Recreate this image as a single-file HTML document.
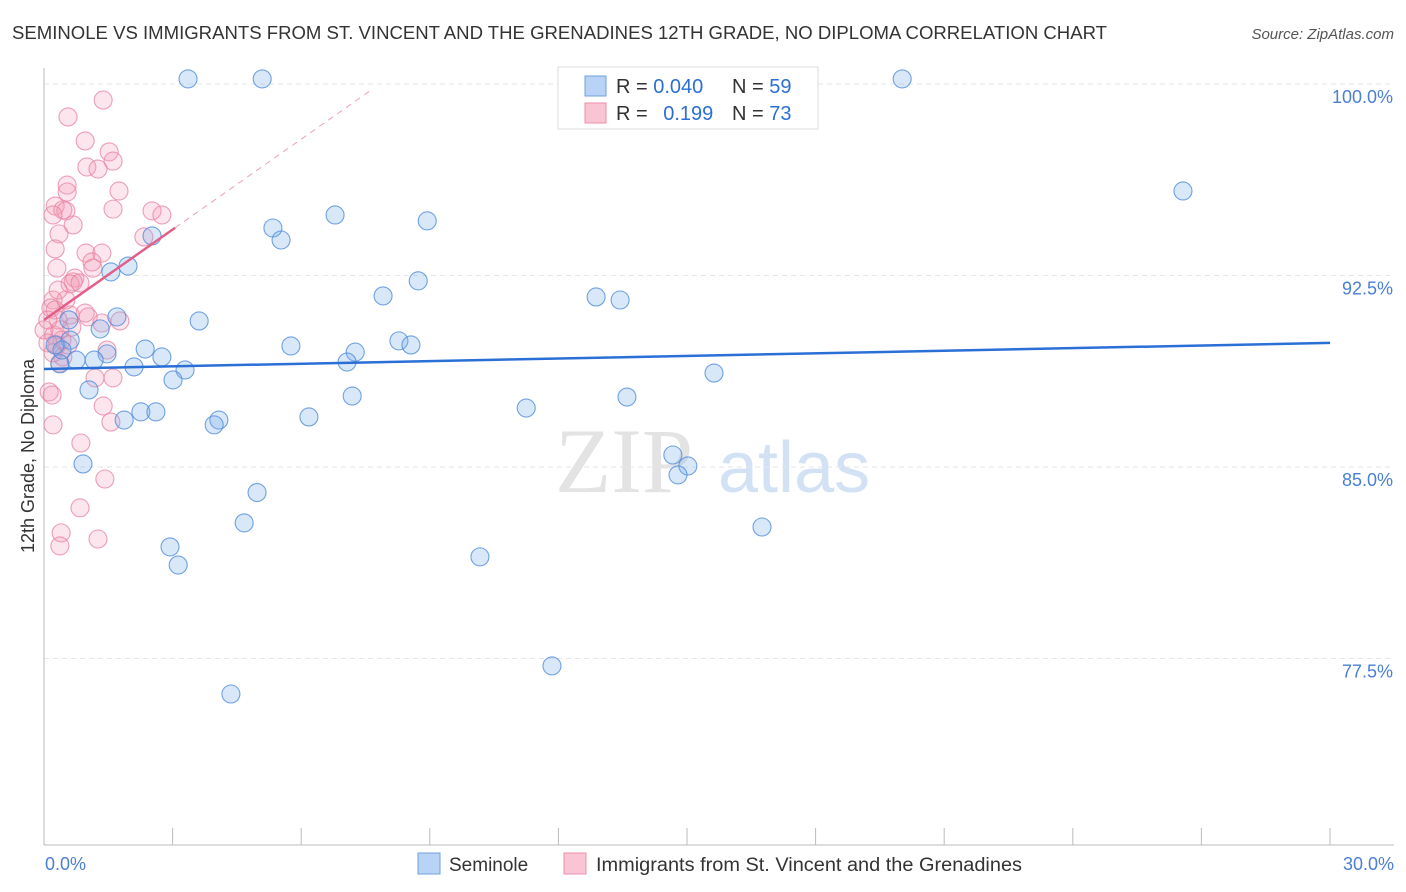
<!DOCTYPE html>
<html><head><meta charset="utf-8"><style>
body{margin:0;background:#fff;font-family:"Liberation Sans",sans-serif;}
svg{display:block}
</style></head><body>
<svg id="chart" width="1406" height="892" viewBox="0 0 1406 892" xmlns="http://www.w3.org/2000/svg">
<text x="12" y="39" font-size="18" fill="#333" textLength="1095" lengthAdjust="spacingAndGlyphs">SEMINOLE VS IMMIGRANTS FROM ST. VINCENT AND THE GRENADINES 12TH GRADE, NO DIPLOMA CORRELATION CHART</text>
<text x="1394" y="39" font-size="15" fill="#555" font-style="italic" text-anchor="end">Source: ZipAtlas.com</text>
<g>
<text x="555" y="492" font-size="92" font-family="Liberation Serif,serif" fill="#ddd" opacity="0.8">ZIP</text>
<text x="718" y="492" font-size="72" fill="#c8dcf2" opacity="0.8">atlas</text>
</g>
<g id="grid"></g>
<g id="axes"></g>
<g id="pts"></g>
<g id="trends"></g>
<text transform="translate(34,456) rotate(-90)" font-size="18" fill="#333" text-anchor="middle">12th Grade, No Diploma</text>
<g>
<rect x="558" y="67" width="260" height="62" fill="#fff" stroke="#ddd"/>
<rect x="585" y="76" width="21" height="20" fill="#b8d3f5" stroke="#6fa0e0"/>
<rect x="585" y="103" width="21" height="20" fill="#f9c4d3" stroke="#eb8fab"/>
<text x="616" y="93" font-size="20" fill="#333">R = <tspan fill="#2a6fd6">0.040</tspan></text>
<text x="732" y="93" font-size="20" fill="#333">N = <tspan fill="#2a6fd6">59</tspan></text>
<text x="616" y="120" font-size="20" fill="#333">R = <tspan fill="#2a6fd6" dx="10">0.199</tspan></text>
<text x="732" y="120" font-size="20" fill="#333">N = <tspan fill="#2a6fd6">73</tspan></text>
</g>
<g>
<rect x="418" y="853" width="22" height="21" fill="#b8d3f5" stroke="#6fa0e0"/>
<text x="449" y="871" font-size="19" fill="#333">Seminole</text>
<rect x="564" y="853" width="22" height="21" fill="#f9c4d3" stroke="#eb8fab"/>
<text x="596" y="871" font-size="19" fill="#333" textLength="426" lengthAdjust="spacingAndGlyphs">Immigrants from St. Vincent and the Grenadines</text>
</g>
</svg>
<script>
const blueX=[3.36,5.09,20.02,26.57,6.79,8.94,5.34,5.53,2.52,1.96,1.56,8.73,7.91,12.88,13.44,3.62,1.70,1.31,0.61,5.76,8.28,8.56,2.36,1.47,2.75,0.75,1.17,7.26,7.07,0.37,2.10,3.29,3.01,15.63,1.05,7.19,13.60,11.25,2.26,2.61,1.87,4.08,3.97,6.18,14.67,15.02,14.79,0.91,4.97,4.67,16.75,2.94,3.13,10.17,11.85,4.36,0.42,0.26,0.58];
const blueY=[100.2,100.2,100.2,95.81,94.87,94.64,94.36,93.89,94.05,92.87,92.64,92.29,91.70,91.66,91.54,90.72,90.88,90.41,89.97,89.74,89.94,89.78,89.62,89.43,89.31,89.19,89.19,89.50,89.11,89.04,88.92,88.80,88.41,88.68,88.02,87.78,87.74,87.31,87.16,87.16,86.84,86.84,86.65,86.96,85.47,85.04,84.69,85.12,84.00,82.81,82.65,81.87,81.16,81.48,77.21,76.11,89.58,89.78,90.76];
const pinkX=[1.38,0.56,0.96,1.52,1.61,1.00,1.26,0.54,0.54,1.75,1.61,0.26,0.44,0.51,0.21,0.68,2.52,2.75,0.35,0.26,0.98,1.35,1.12,0.30,1.14,0.72,0.61,0.68,0.21,0.16,0.26,0.61,0.96,1.03,1.35,1.77,0.65,0.23,0.42,0.30,0.09,0.44,0.37,1.19,1.61,0.12,0.19,1.38,1.56,0.21,0.86,1.42,0.84,0.40,0.37,1.26,2.33,0,0.51,0.33,0.21,0.56,0.09,0.84,0.37,1.47,0.33];
const pinkY=[99.37,98.71,97.77,97.34,96.98,96.75,96.67,96.04,95.77,95.81,95.10,95.22,95.07,95.03,94.87,94.48,95.03,94.87,94.13,93.54,93.38,93.38,93.03,92.79,92.79,92.40,92.17,92.25,91.54,91.23,91.15,90.95,91.03,90.88,90.64,90.72,90.48,90.17,89.97,89.78,89.86,89.31,89.07,88.49,88.49,87.94,87.82,87.39,86.76,86.65,85.94,84.53,83.40,82.42,81.91,82.18,94.01,90.37,91.54,90.76,89.47,89.78,90.76,92.21,90.37,89.58,91.93];
const blueTrend=[88.84,89.86];   // y at x=0 and x=30
const pinkTrend=[90.76,1.18];    // intercept, slope
const yTicks=[100,92.5,85,77.5];
const yTickLabels=["100.0%","92.5%","85.0%","77.5%"];
const xTickVals=[0,3,6,9,12,15,18,21,24,27,30];

const NS="http://www.w3.org/2000/svg";
const X0=44,X1=1330,Y100=84,PXPER=191.5/7.5;
function sx(v){return X0+(v/30)*(X1-X0);}
function sy(v){return Y100+(100-v)*PXPER;}
function mk(tag,attrs,parent){const e=document.createElementNS(NS,tag);for(const k in attrs)e.setAttribute(k,attrs[k]);parent.appendChild(e);return e;}
const grid=document.getElementById('grid'),axes=document.getElementById('axes'),pts=document.getElementById('pts'),tr=document.getElementById('trends');
yTicks.forEach((t,i)=>{
 const l=mk('line',{x1:X0,x2:1394,y1:sy(t),y2:sy(t),stroke:'#e6e6e6','stroke-dasharray':'5,4'},grid);
 
 
 const tx=mk('text',{x:1393,y:sy(t)+19,'font-size':18,fill:'#4a7fd4','text-anchor':'end'},grid);
 tx.textContent=yTickLabels[i];
 
 
});
const ya=mk('line',{x1:X0,x2:X0,y1:68,y2:845,stroke:'#bbb'},axes);


const xa=mk('line',{x1:X0,x2:1394,y1:845,y2:845,stroke:'#bbb'},axes);


xTickVals.forEach(v=>{
 const t=mk('line',{x1:sx(v),x2:sx(v),y1:828,y2:845,stroke:'#bbb'},axes);
 
 
});
const xl0=mk('text',{x:45,y:870,'font-size':18,fill:'#4a7fd4'},axes);xl0.textContent='0.0%';


const xl1=mk('text',{x:1394,y:870,'font-size':18,fill:'#4a7fd4','text-anchor':'end'},axes);xl1.textContent='30.0%';


pinkX.forEach((x,i)=>{
 const c=mk('circle',{cx:sx(x),cy:sy(pinkY[i]),r:9,fill:'rgba(242,150,178,0.25)',stroke:'rgba(232,130,162,0.75)','stroke-width':1.1},pts);
 
 
});
blueX.forEach((x,i)=>{
 const c=mk('circle',{cx:sx(x),cy:sy(blueY[i]),r:9,fill:'rgba(120,172,232,0.28)',stroke:'rgba(80,140,220,0.8)','stroke-width':1.1},pts);
 
 
});
const bl=mk('line',{x1:sx(0),y1:sy(blueTrend[0]),x2:sx(30),y2:sy(blueTrend[1]),stroke:'#2a6fd6','stroke-width':2.5},tr);


const pe=3.06;
const pl=mk('line',{x1:sx(0),y1:sy(pinkTrend[0]),x2:sx(pe),y2:sy(pinkTrend[0]+pinkTrend[1]*pe),stroke:'#e35f8a','stroke-width':2.5},tr);


const pd=7.6;
const pdl=mk('line',{x1:sx(pe),y1:sy(pinkTrend[0]+pinkTrend[1]*pe),x2:sx(pd),y2:sy(pinkTrend[0]+pinkTrend[1]*pd),stroke:'#eba0b8','stroke-width':1,'stroke-dasharray':'6,5'},tr);


</script>
</body></html>
